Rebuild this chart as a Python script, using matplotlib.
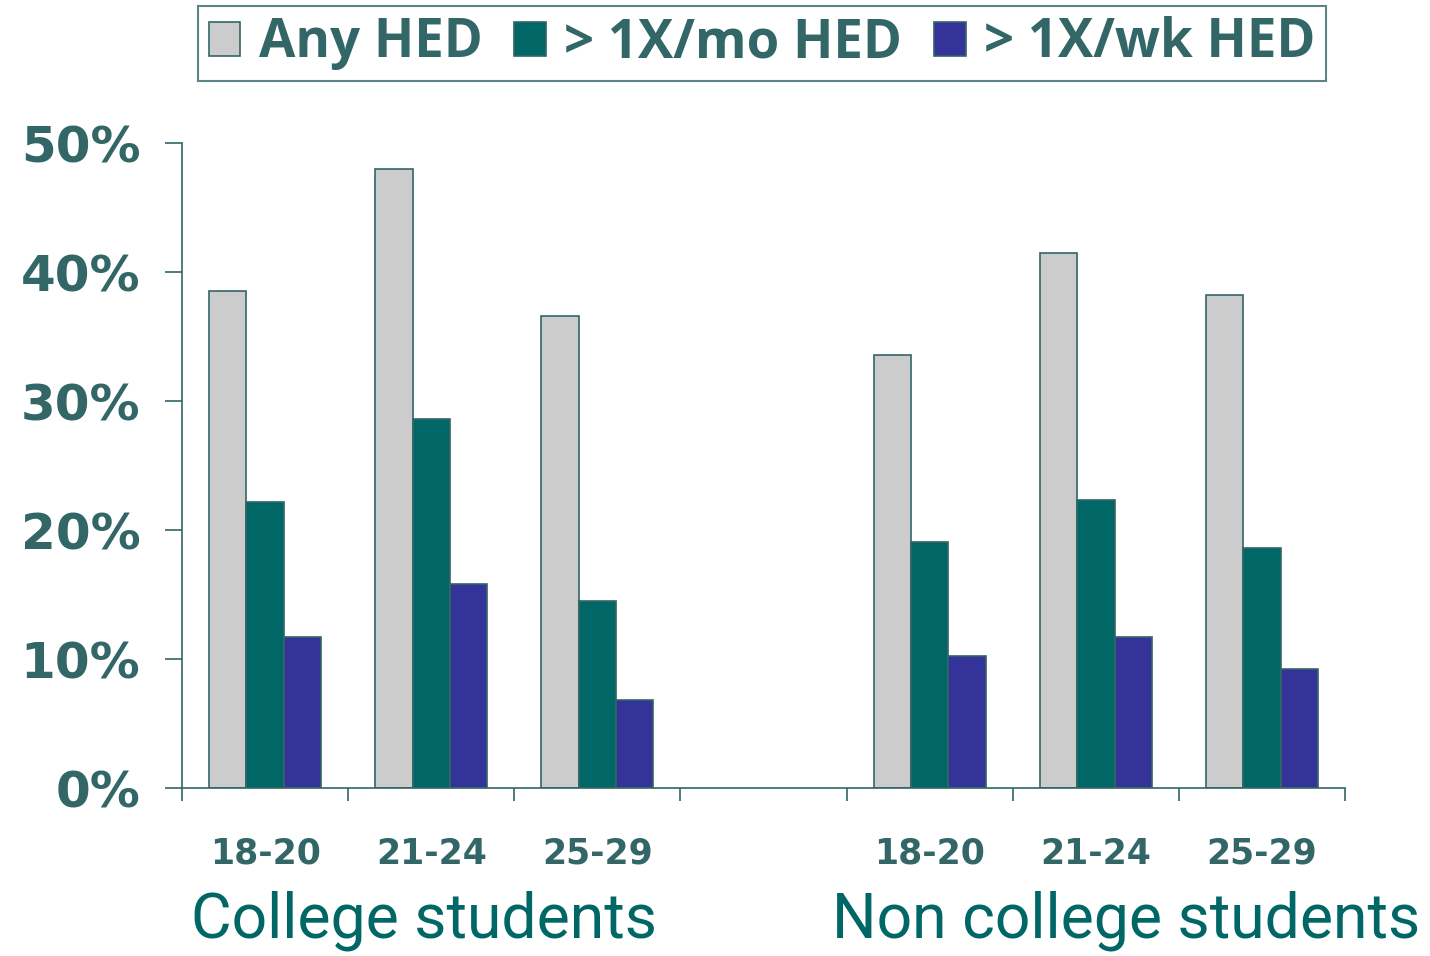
import matplotlib.pyplot as plt
import numpy as np

ages = ['18-20', '21-24', '25-29', '', '18-20', '21-24', '25-29']
groups = ['College students', 'Non college students']
series = ['Any HED', '> 1X/mo HED', '> 1X/wk HED']

any_hed = [38.5, 48.0, 36.6, np.nan, 33.6, 41.5, 38.2]
month_hed = [22.2, 28.6, 14.5, np.nan, 19.1, 22.3, 18.6]
week_hed = [11.7, 15.8, 6.8, np.nan, 10.2, 11.7, 9.2]

colors = ['#cccccc', '#006666', '#333399']
edge = '#336666'
txt = '#336666'

plt.rcParams['font.family'] = ['Roboto', 'DejaVu Sans']

fig = plt.figure(figsize=(14.3, 9.56), dpi=100)
ax = fig.add_axes([0.1273, 0.1757, 0.8133, 0.6747])

x = np.arange(len(ages))
w = 0.225
for i, (vals, c, name) in enumerate(zip([any_hed, month_hed, week_hed], colors, series)):
    ax.bar(x + (i - 1) * w, vals, w, color=c, edgecolor=edge, linewidth=1.2, label=name)

ax.set_xlim(-0.5, 6.5)
ax.set_ylim(0, 50)
ax.spines['top'].set_visible(False)
ax.spines['right'].set_visible(False)
for s in ['left', 'bottom']:
    ax.spines[s].set_color(edge)
    ax.spines[s].set_linewidth(1.2)

ax.set_yticks(np.arange(0, 51, 10))
ax.set_yticklabels([f'{v}%' for v in range(0, 51, 10)],
                   fontfamily='DejaVu Sans', fontweight='bold')
ax.tick_params(axis='y', length=12, width=1.2, color=edge, labelsize=36,
               labelcolor=txt, pad=18)

ax.set_xticks(np.arange(-0.5, 7, 1), minor=True)
ax.set_xticks(x)
ax.set_xticklabels(ages, fontfamily='DejaVu Sans', fontweight='bold')
ax.tick_params(axis='x', which='minor', length=9, width=1.2, color=edge, direction='out')
ax.tick_params(axis='x', which='major', length=0, labelsize=25, labelcolor=txt, pad=35)

ax.text(0.954, -0.205, groups[0], transform=ax.get_xaxis_transform(),
        ha='center', va='center', fontsize=45, color='#006666')
ax.text(5.18, -0.205, groups[1], transform=ax.get_xaxis_transform(),
        ha='center', va='center', fontsize=45, color='#006666')

leg = fig.legend(loc='center', bbox_to_anchor=(0.533, 0.9545), ncol=3,
                 frameon=True, fancybox=False, edgecolor=edge,
                 prop={'family': 'Open Sans', 'weight': 'bold', 'size': 38},
                 handlelength=0.6, handleheight=0.6, handletextpad=0.35,
                 columnspacing=0.6, borderpad=0.2, borderaxespad=0)
leg.get_frame().set_linewidth(1.5)
for t in leg.get_texts():
    t.set_color(txt)

fig.savefig('out.png', dpi=100)
